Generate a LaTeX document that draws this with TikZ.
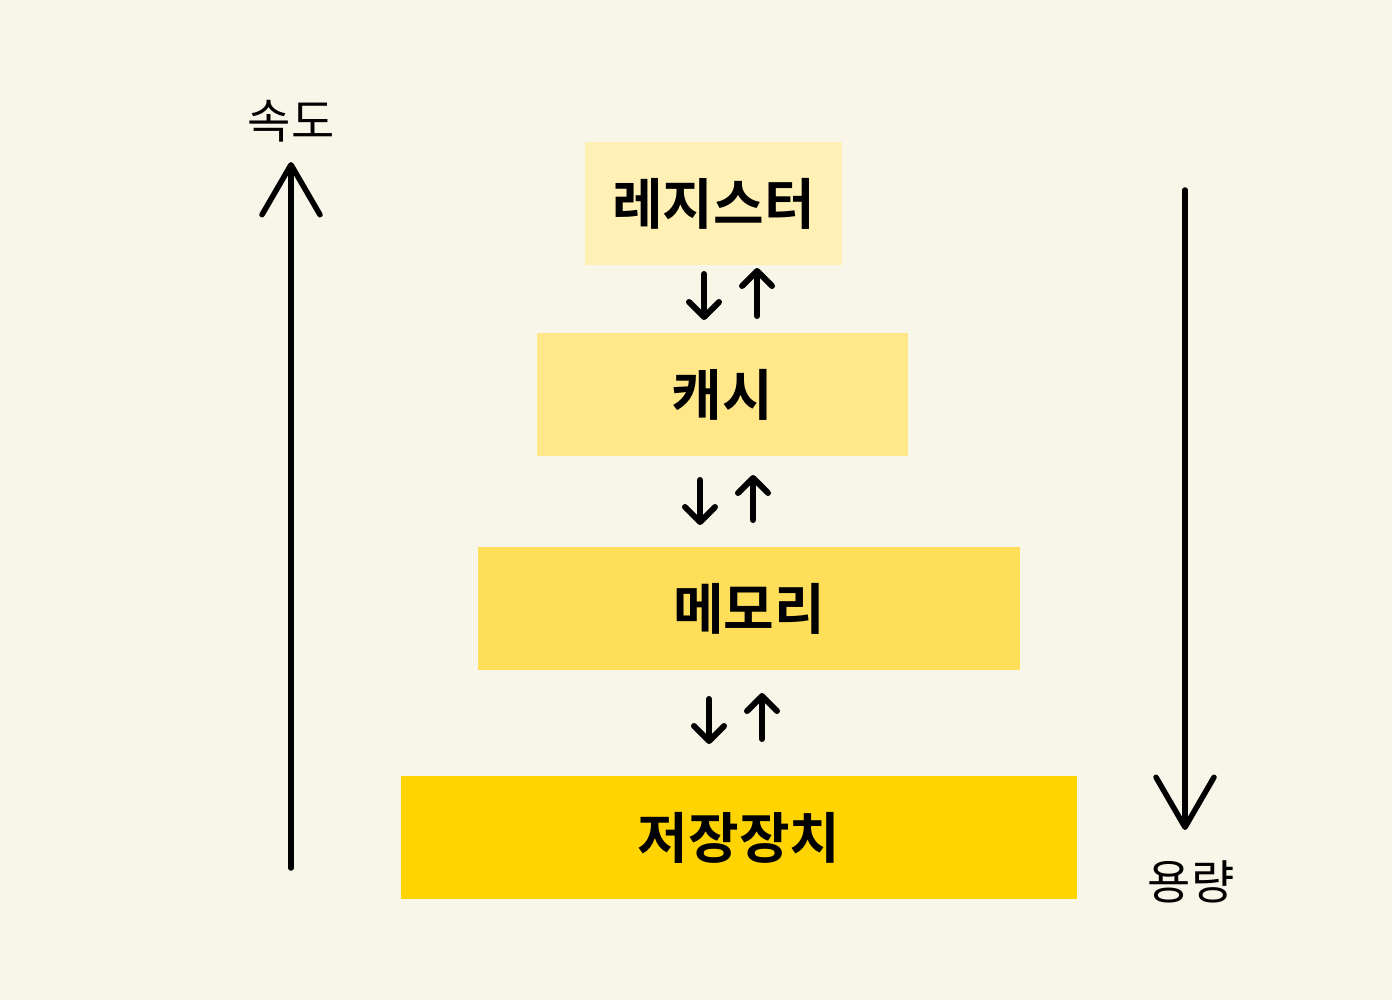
\documentclass[tikz,border=0pt]{standalone}
\usepackage{fontspec}
\usetikzlibrary{arrows.meta}
\newfontfamily\krfont{Noto Sans CJK KR}
\newfontfamily\krbold{Noto Sans CJK KR Bold}
\definecolor{bgc}{HTML}{F8F6E9}
\definecolor{ca}{HTML}{FFF1B5}
\definecolor{cb}{HTML}{FFE78A}
\definecolor{cc}{HTML}{FFDE59}
\definecolor{cd}{HTML}{FFD400}
\newcommand{\boxtxt}[1]{\raisebox{4pt}{#1}}
\begin{document}
\begin{tikzpicture}[x=1pt,y=-1pt,
  box/.style={inner sep=0pt, outer sep=0pt, font=\krbold\fontsize{55}{62}\selectfont},
  small/.style={line width=6pt, line cap=round,
    -{Straight Barb[length=15pt,width=30pt,line width=6pt,round]}},
  big/.style={line width=5.5pt, line cap=round,
    -{Straight Barb[length=50pt,width=58pt,line width=5.5pt,round]}},
  lab/.style={font=\krfont\fontsize{47}{54}\selectfont, inner sep=0pt}]
\fill[bgc] (0,0) rectangle (1392,1000);
\useasboundingbox (0,0) rectangle (1392,1000);
\node[box, fill=ca, minimum width=257pt, minimum height=123pt] (reg) at (713.5,203.5) {\boxtxt{레지스터}};
\node[box, fill=cb, minimum width=371pt, minimum height=123pt] (cache) at (722.5,394.5) {\boxtxt{캐시}};
\node[box, fill=cc, minimum width=542pt, minimum height=123pt] (mem) at (749,608.5) {\boxtxt{메모리}};
\node[box, fill=cd, minimum width=676pt, minimum height=123pt] (sto) at (739,837.5) {\boxtxt{저장장치}};
% small arrow pairs
\coordinate (d1s) at (704,274); \coordinate (d1e) at (704,320);
\coordinate (u1s) at (757,316); \coordinate (u1e) at (757,268);
\coordinate (d2s) at (700,480); \coordinate (d2e) at (700,525);
\coordinate (u2s) at (753,520); \coordinate (u2e) at (753,475);
\coordinate (d3s) at (709,699); \coordinate (d3e) at (709,744);
\coordinate (u3s) at (762,739); \coordinate (u3e) at (762,693);
\draw[small] (d1s) -- (d1e);
\draw[small] (u1s) -- (u1e);
\draw[small] (d2s) -- (d2e);
\draw[small] (u2s) -- (u2e);
\draw[small] (d3s) -- (d3e);
\draw[small] (u3s) -- (u3e);
% big arrows
\coordinate (ls) at (291,868); \coordinate (le) at (291,162);
\draw[big] (ls) -- (le);
\node[lab] (speed) at (291,121) {속도};
\coordinate (rs) at (1185,190); \coordinate (re) at (1185,830);
\draw[big] (rs) -- (re);
\node[lab] (cap) at (1191,882) {용량};
\end{tikzpicture}
\end{document}
